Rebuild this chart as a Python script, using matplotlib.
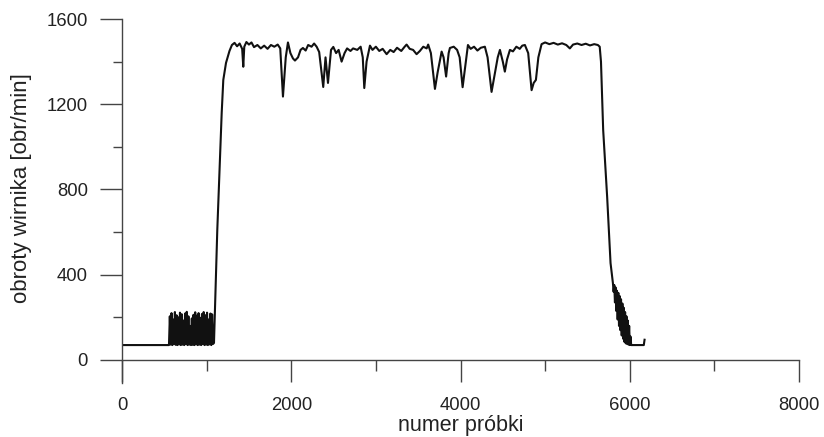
import numpy as np
import matplotlib
matplotlib.use('Agg')
import matplotlib.pyplot as plt
from matplotlib.ticker import MultipleLocator

plt.rcParams['font.family'] = ['Liberation Sans', 'DejaVu Sans']

# idle level before start
base_n = [0, 545]
base_v = [70, 70]

# flicker of the reading before the rotor spins up
spike_n = [555, 565, 575, 585, 595, 605, 615, 625, 635, 645,
           655, 665, 675, 685, 695, 705, 715, 725, 735, 745,
           755, 765, 775, 785, 795, 805, 815, 825, 835, 845,
           855, 865, 875, 885, 895, 905, 915, 925, 935, 945,
           955, 965, 975, 985, 995, 1005, 1015, 1025, 1035, 1045,
           1055, 1065, 1075]
spike_v = [70, 205, 72, 220, 70, 190, 74, 225, 71, 210,
           70, 200, 73, 222, 70, 215, 72, 185, 70, 218,
           74, 226, 70, 205, 72, 160, 70, 195, 71, 212,
           70, 224, 73, 208, 70, 220, 72, 198, 70, 216,
           74, 225, 70, 210, 72, 222, 70, 190, 73, 218,
           70, 214, 75]

# run-up, working plateau and run-down
run_n = [1087, 1126, 1178, 1197, 1229, 1270, 1299, 1330, 1360, 1390,
         1420, 1433, 1445, 1470, 1500, 1530, 1560, 1600, 1640, 1680,
         1720, 1760, 1800, 1840, 1870, 1902, 1935, 1961, 1990, 2020,
         2044, 2080, 2110, 2138, 2170, 2200, 2240, 2270, 2300, 2330,
         2378, 2405, 2434, 2470, 2497, 2530, 2560, 2595, 2630, 2660,
         2700, 2731, 2780, 2820, 2845, 2863, 2890, 2930, 2960, 3000,
         3040, 3080, 3127, 3170, 3210, 3250, 3300, 3340, 3363, 3400,
         3440, 3481, 3520, 3560, 3600, 3618, 3650, 3698, 3730, 3777,
         3800, 3830, 3860, 3875, 3920, 3960, 3990, 4025, 4050, 4088,
         4120, 4160, 4200, 4240, 4288, 4320, 4367, 4400, 4440, 4466,
         4500, 4524, 4550, 4584, 4620, 4660, 4700, 4730, 4761, 4800,
         4840, 4865, 4891, 4920, 4958, 5000, 5050, 5100, 5150, 5200,
         5250, 5292, 5330, 5380, 5430, 5480, 5530, 5580, 5623, 5645,
         5660, 5686, 5733, 5773, 5801]
run_v = [80, 610, 1159, 1314, 1394, 1450, 1478, 1488, 1472, 1485,
         1460, 1376, 1470, 1492, 1480, 1490, 1468, 1478, 1462, 1475,
         1460, 1478, 1470, 1480, 1462, 1236, 1420, 1490, 1440, 1415,
         1405, 1420, 1455, 1464, 1452, 1478, 1470, 1485, 1470, 1445,
         1281, 1420, 1300, 1455, 1469, 1440, 1455, 1400, 1440, 1462,
         1450, 1462, 1455, 1470, 1420, 1276, 1400, 1475, 1455, 1470,
         1450, 1460, 1435, 1455, 1445, 1465, 1450, 1470, 1480, 1460,
         1455, 1435, 1450, 1470, 1462, 1480, 1440, 1272, 1350, 1447,
         1420, 1330, 1440, 1464, 1470, 1455, 1420, 1280, 1360, 1478,
         1460, 1470, 1452, 1465, 1470, 1420, 1258, 1330, 1420, 1455,
         1400, 1353, 1410, 1455, 1448, 1470, 1460, 1475, 1478, 1440,
         1266, 1300, 1314, 1420, 1482, 1490, 1482, 1488, 1480, 1486,
         1478, 1462, 1480, 1485, 1478, 1484, 1476, 1482, 1478, 1470,
         1400, 1079, 765, 455, 361]

# oscillating tail of the run-down
tail_n = [5809, 5817, 5825, 5833, 5841, 5849, 5857, 5865, 5873, 5881,
          5889, 5897, 5905, 5913, 5921, 5929, 5937, 5945, 5953, 5961,
          5969, 5977, 5985, 5993, 6001, 6009, 6017, 6025, 6166, 6175]
tail_v = [320, 352, 270, 340, 230, 325, 190, 315, 160, 300,
          140, 285, 115, 265, 100, 245, 85, 225, 78, 205,
          75, 185, 72, 160, 70, 110, 70, 70, 70, 95]

n = base_n + spike_n + run_n + tail_n
v = base_v + spike_v + run_v + tail_v

fig = plt.figure(figsize=(8.24, 4.37), dpi=100)
ax = fig.add_axes([122/824, 1 - 383/437, 677/824, 364/437])

ax.plot(n, v, color='#111111', linewidth=1.5)

ax.set_xlim(0, 8000)
ax.set_ylim(-108, 1600)

ax.spines['top'].set_visible(False)
ax.spines['right'].set_visible(False)
ax.spines['bottom'].set_position(('data', 0))
for s in ['left', 'bottom']:
    ax.spines[s].set_color('#444444')
    ax.spines[s].set_linewidth(1.0)

ax.xaxis.set_major_locator(MultipleLocator(2000))
ax.xaxis.set_minor_locator(MultipleLocator(1000))
ax.yaxis.set_major_locator(MultipleLocator(400))
ax.yaxis.set_minor_locator(MultipleLocator(200))

ax.tick_params(which='both', direction='out', color='#444444', width=1.0,
               labelcolor='#222222', labelsize=13.3)
ax.tick_params(axis='x', which='major', length=16, pad=11)
ax.tick_params(axis='x', which='minor', length=8)
ax.tick_params(axis='y', which='major', length=16, pad=8.6)
ax.tick_params(axis='y', which='minor', length=6.5)

ax.set_xlabel('numer próbki', fontsize=15.5, color='#222222')
ax.set_ylabel('obroty wirnika [obr/min]', fontsize=16, color='#222222')
ax.xaxis.set_label_coords(0.5, -0.087)
ax.yaxis.set_label_coords(-0.133, 0.536)

plt.savefig('out.png', dpi=100)
